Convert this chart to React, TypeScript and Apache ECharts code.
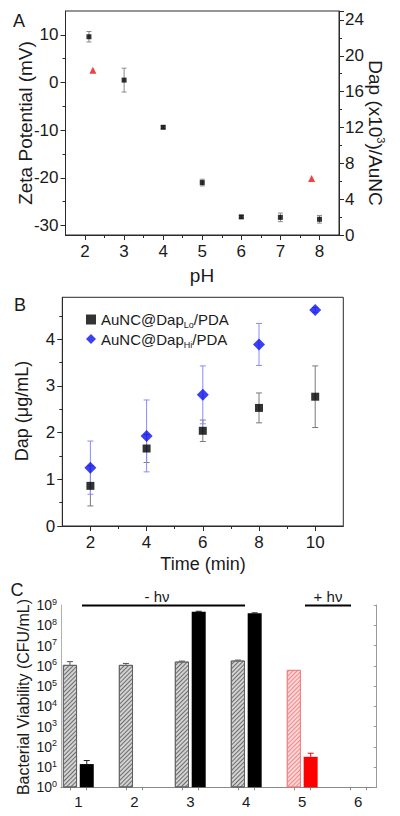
import React, { useEffect, useRef } from 'react';
import * as echarts from 'echarts';

// ---------- Panel A ----------
const phValues = [2.1, 3, 4, 5, 6, 7, 8];
const zetaPotential = [9.6, 0.5, -9.4, -21.0, -28.2, -28.3, -28.7];
const zetaError = [1.1, 2.5, 0.3, 0.7, 0.3, 0.9, 0.8];
const dapPh = [2.2, 7.8];
const dapPerAuNC = [18.4, 6.3];
const phTicks = [2, 3, 4, 5, 6, 7, 8];
const phMinorTicks = [2.5, 3.5, 4.5, 5.5, 6.5, 7.5];
const zetaTicks = [-30, -20, -10, 0, 10];
const zetaMinorTicks = [-25, -15, -5, 5];

// ---------- Panel B ----------
const timeMin = [2, 4, 6, 8, 10];
const dapLo = [0.86, 1.66, 2.04, 2.53, 2.77];
const dapLoErr = [0.43, 0.3, 0.23, 0.32, 0.66];
const dapHi = [1.25, 1.93, 2.81, 3.89, 4.63];
const dapHiErr = [0.57, 0.77, 0.62, 0.45, 0.05];
const timeTicks = [2, 4, 6, 8, 10];
const timeMinorTicks = [3, 5, 7, 9];
const dapTicks = [0, 1, 2, 3, 4];
const dapMinorTicks = [0.5, 1.5, 2.5, 3.5, 4.5];
const loName = 'AuNC@DapLo/PDA';
const hiName = 'AuNC@DapHi/PDA';

// ---------- Panel C ----------
const groups = [1, 2, 3, 4, 5, 6];
const controlCFU: (number | null)[] = [1.1e6, 1.1e6, 1.6e6, 1.8e6, 6.2e5, null];
const controlErr: (number | null)[] = [5e5, 2e5, 1e5, 1e5, 0, null];
const treatedCFU: (number | null)[] = [14, null, 4.7e8, 3.9e8, 32, null];
const treatedErr: (number | null)[] = [7, null, 2e7, 2e7, 16, null];
const decades = [1, 10, 1e2, 1e3, 1e4, 1e5, 1e6, 1e7, 1e8, 1e9];
const redGroup = 5;

const FONT = '"Liberation Sans", Arial, Helvetica, sans-serif';
const BAR_OFFSET_PX = 8.4;

function errSeries(
  name: string,
  xi: number,
  yi: number,
  data: number[][],
  colorFor: (row: number[]) => string,
  cap: number,
  upOnly: boolean
) {
  return {
    type: 'custom',
    name,
    xAxisIndex: xi,
    yAxisIndex: yi,
    silent: true,
    z: 2,
    data,
    renderItem: (params: any, api: any) => {
      const x = api.value(0);
      const y = api.value(1);
      const e = api.value(2);
      const dx = api.value(3) || 0;
      const row = data[params.dataIndex];
      const color = colorFor(row);
      const top = api.coord([x, y + e]);
      const bot = api.coord([x, upOnly ? y : y - e]);
      const px = top[0] + dx;
      const st = { stroke: color, lineWidth: 1 };
      const children: any[] = [
        { type: 'line', shape: { x1: px, y1: top[1], x2: px, y2: bot[1] }, style: st },
        { type: 'line', shape: { x1: px - cap, y1: top[1], x2: px + cap, y2: top[1] }, style: st },
      ];
      if (!upOnly) {
        children.push({ type: 'line', shape: { x1: px - cap, y1: bot[1], x2: px + cap, y2: bot[1] }, style: st });
      }
      return { type: 'group', children };
    },
  };
}

function txt(x: number, y: number, text: string, size: number, rotation = 0, extra: any = {}) {
  return {
    type: 'text',
    x,
    y,
    rotation,
    silent: true,
    style: {
      text,
      fontSize: size,
      fontFamily: FONT,
      fill: '#1a1a1a',
      align: 'center',
      verticalAlign: 'middle',
      textAlign: 'center',
      textVerticalAlign: 'middle',
      ...extra,
    },
  };
}

const hatchGray = {
  symbol: 'rect',
  symbolSize: 1,
  dashArrayX: [1, 0],
  dashArrayY: [1, 2],
  rotation: -Math.PI / 4,
  color: '#6e6e6e',
};
const hatchRed = { ...hatchGray, color: '#f08a8a' };

export default function App() {
  const ref = useRef<HTMLDivElement>(null);

  useEffect(() => {
    if (!ref.current) return;
    const chart = echarts.init(ref.current, undefined, { renderer: 'svg' });

    const axisLineDark = { show: true, onZero: false, lineStyle: { color: '#2a2a2a', width: 1 } };
    const labelStyle = { color: '#1a1a1a', fontSize: 17, fontFamily: FONT };

    const minorAxis = (extra: any) => ({
      type: 'value',
      axisLine: { show: false, onZero: false },
      axisLabel: { show: false },
      splitLine: { show: false },
      ...extra,
    });

    const controlData = groups
      .map((g, i) => {
        const v = controlCFU[i];
        if (v == null) return null;
        if (g === redGroup) {
          return {
            value: [g, v],
            itemStyle: { color: '#fcd6d6', borderColor: '#f07c7c', borderWidth: 0.8, decal: hatchRed },
          };
        }
        return { value: [g, v] };
      })
      .filter((d) => d != null);

    const treatedData = groups
      .map((g, i) => {
        const v = treatedCFU[i];
        if (v == null) return null;
        if (g === redGroup) return { value: [g, v], itemStyle: { color: '#ff0000' } };
        return { value: [g, v] };
      })
      .filter((d) => d != null);

    const controlErrData = groups
      .map((g, i) => (controlCFU[i] != null && controlErr[i] ? [g, controlCFU[i] as number, controlErr[i] as number, -BAR_OFFSET_PX] : null))
      .filter((d) => d != null) as number[][];
    const treatedErrData = groups
      .map((g, i) => (treatedCFU[i] != null && treatedErr[i] ? [g, treatedCFU[i] as number, treatedErr[i] as number, BAR_OFFSET_PX] : null))
      .filter((d) => d != null) as number[][];

    const option: any = {
      animation: false,
      textStyle: { fontFamily: FONT },
      grid: [
        { left: 65.5, top: 11, width: 273.5, height: 224, show: true, borderColor: '#2a2a2a', borderWidth: 1, backgroundColor: 'transparent' },
        { left: 62.3, top: 297.3, width: 281, height: 228.7, show: true, borderColor: '#2a2a2a', borderWidth: 1, backgroundColor: 'transparent' },
        { left: 61, top: 605, width: 315.7, height: 182.3 },
      ],
      xAxis: [
        {
          gridIndex: 0, type: 'value', min: 1.5, max: 8.5, position: 'bottom',
          axisLine: axisLineDark,
          axisTick: { show: true, length: 5, customValues: phTicks, lineStyle: { color: '#2a2a2a' } },
          axisLabel: { ...labelStyle, margin: 8, customValues: phTicks },
          splitLine: { show: false },
        },
        minorAxis({ gridIndex: 0, min: 1.5, max: 8.5, position: 'bottom', axisTick: { show: true, length: 3, customValues: phMinorTicks, lineStyle: { color: '#2a2a2a' } } }),
        {
          gridIndex: 1, type: 'value', min: 1, max: 11, position: 'bottom',
          axisLine: axisLineDark,
          axisTick: { show: true, length: 5, customValues: timeTicks, lineStyle: { color: '#2a2a2a' } },
          axisLabel: { ...labelStyle, margin: 8, customValues: timeTicks },
          splitLine: { show: false },
        },
        minorAxis({ gridIndex: 1, min: 1, max: 11, position: 'bottom', axisTick: { show: true, length: 3, customValues: timeMinorTicks, lineStyle: { color: '#2a2a2a' } } }),
        {
          gridIndex: 2, type: 'value', min: 0.69, max: 6.33, position: 'bottom',
          axisLine: { show: true, onZero: false, lineStyle: { color: '#8a8a8a', width: 1 } },
          axisTick: {
            show: true, length: 3,
            customValues: groups.flatMap((g) => [g - 0.15, g + 0.15]),
            lineStyle: { color: '#8a8a8a' },
          },
          axisLabel: { color: '#1a1a1a', fontSize: 15, fontFamily: FONT, margin: 7, customValues: groups },
          splitLine: { show: false },
        },
      ],
      yAxis: [
        {
          gridIndex: 0, type: 'value', min: -32, max: 15, position: 'left',
          axisLine: axisLineDark,
          axisTick: { show: true, length: 5, customValues: zetaTicks, lineStyle: { color: '#2a2a2a' } },
          axisLabel: { ...labelStyle, margin: 7, customValues: zetaTicks },
          splitLine: { show: false },
        },
        minorAxis({ gridIndex: 0, min: -32, max: 15, position: 'left', axisTick: { show: true, length: 3, customValues: zetaMinorTicks, lineStyle: { color: '#2a2a2a' } } }),
        {
          gridIndex: 0, type: 'value', position: 'right', min: 0, max: 25, interval: 4,
          axisLine: axisLineDark,
          axisTick: { show: true, length: 5, lineStyle: { color: '#2a2a2a' } },
          minorTick: { show: true, splitNumber: 2, length: 3, lineStyle: { color: '#2a2a2a' } },
          axisLabel: { ...labelStyle, margin: 6, showMaxLabel: false },
          splitLine: { show: false },
        },
        {
          gridIndex: 1, type: 'value', min: 0, max: 4.9, position: 'left',
          axisLine: axisLineDark,
          axisTick: { show: true, length: 5, customValues: dapTicks, lineStyle: { color: '#2a2a2a' } },
          axisLabel: { ...labelStyle, margin: 7, customValues: dapTicks },
          splitLine: { show: false },
        },
        minorAxis({ gridIndex: 1, min: 0, max: 4.9, position: 'left', axisTick: { show: true, length: 3, customValues: dapMinorTicks, lineStyle: { color: '#2a2a2a' } } }),
        {
          gridIndex: 2, type: 'log', logBase: 10, min: 1, max: 1e9, position: 'left',
          axisLine: { show: true, lineStyle: { color: '#b0b0b0', width: 1 } },
          axisTick: { show: false },
          axisLabel: {
            margin: 4,
            customValues: decades,
            formatter: (v: number) => `{b|10}{s|${Math.round(Math.log10(v))}}`,
            rich: {
              b: { fontSize: 14, fontFamily: FONT, color: '#1a1a1a', lineHeight: 16 },
              s: { fontSize: 9, fontFamily: FONT, color: '#1a1a1a', verticalAlign: 'top', lineHeight: 9 },
            },
          },
          splitLine: { show: false },
        },
        {
          gridIndex: 2, type: 'log', logBase: 10, min: 1, max: 1e9, position: 'right',
          axisLine: { show: true, lineStyle: { color: '#9a9a9a', width: 1 } },
          axisTick: { show: true, inside: true, length: 3, customValues: decades, lineStyle: { color: '#9a9a9a' } },
          axisLabel: { show: false },
          splitLine: { show: false },
        },
      ],
      legend: {
        left: 81,
        top: 307,
        orient: 'vertical',
        itemWidth: 10,
        itemHeight: 10,
        itemGap: 2,
        data: [
          { name: loName, icon: 'rect' },
          { name: hiName, icon: 'diamond' },
        ],
        formatter: (name: string) =>
          name === loName ? '{a|AuNC@Dap}{s|Lo}{a|/PDA}' : '{a|AuNC@Dap}{s|Hi}{a|/PDA}',
        textStyle: {
          fontFamily: FONT,
          rich: {
            a: { fontSize: 15, fontFamily: FONT, color: '#1a1a1a', lineHeight: 20 },
            s: { fontSize: 9, fontFamily: FONT, color: '#1a1a1a', lineHeight: 9, verticalAlign: 'bottom' },
          },
        },
        selectedMode: false,
      },
      series: [
        // Panel A
        errSeries('zetaErr', 0, 0, phValues.map((p, i) => [p, zetaPotential[i], zetaError[i]]), () => '#8a8a8a', 2.5, false),
        {
          type: 'scatter', name: 'zeta', xAxisIndex: 0, yAxisIndex: 0, z: 3,
          symbol: 'rect', symbolSize: 5, itemStyle: { color: '#000' },
          data: phValues.map((p, i) => [p, zetaPotential[i]]),
        },
        {
          type: 'scatter', name: 'dapLoad', xAxisIndex: 0, yAxisIndex: 2, z: 3,
          symbol: 'triangle', symbolSize: 7, itemStyle: { color: '#ee1111' },
          data: dapPh.map((p, i) => [p, dapPerAuNC[i]]),
        },
        // Panel B
        errSeries('loErr', 2, 3, timeMin.map((t, i) => [t, dapLo[i], dapLoErr[i]]), () => '#7a7a7a', 3, false),
        errSeries('hiErr', 2, 3, timeMin.map((t, i) => [t, dapHi[i], dapHiErr[i]]), () => '#8a8aff', 3, false),
        {
          type: 'scatter', name: loName, xAxisIndex: 2, yAxisIndex: 3, z: 3,
          symbol: 'rect', symbolSize: 8, itemStyle: { color: '#000' },
          data: timeMin.map((t, i) => [t, dapLo[i]]),
        },
        {
          type: 'scatter', name: hiName, xAxisIndex: 2, yAxisIndex: 3, z: 4,
          symbol: 'diamond', symbolSize: 12, itemStyle: { color: '#0a10ee' },
          data: timeMin.map((t, i) => [t, dapHi[i]]),
        },
        // Panel C
        {
          type: 'bar', name: 'control', xAxisIndex: 4, yAxisIndex: 5,
          barWidth: 14, barGap: '20%',
          itemStyle: { color: '#d2d2d2', borderColor: '#5a5a5a', borderWidth: 0.8, decal: hatchGray },
          data: controlData,
        },
        {
          type: 'bar', name: 'treated', xAxisIndex: 4, yAxisIndex: 5,
          barWidth: 14, barGap: '20%',
          itemStyle: { color: '#000' },
          data: treatedData,
        },
        errSeries('controlErr', 4, 5, controlErrData, (r) => (r[0] === redGroup ? '#f07c7c' : '#555'), 3, true),
        errSeries('treatedErr', 4, 5, treatedErrData, (r) => (r[0] === redGroup ? '#ff0000' : '#222'), 3, true),
      ],
      graphic: [
        txt(19, 21, 'A', 18),
        txt(20, 305, 'B', 18),
        txt(17, 590, 'C', 18),
        txt(25, 123, 'Zeta Potential (mV)', 19, Math.PI / 2),
        txt(375, 133, '{a|Dap (x10}{s|3}{a|)/AuNC}', 19, -Math.PI / 2, {
          rich: {
            a: { fontSize: 19, fontFamily: FONT, fill: '#1a1a1a', lineHeight: 22 },
            s: { fontSize: 11, fontFamily: FONT, fill: '#1a1a1a', lineHeight: 11, verticalAlign: 'top' },
          },
        }),
        txt(202, 275, 'pH', 19),
        txt(22, 411, 'Dap (μg/mL)', 18, Math.PI / 2),
        txt(203, 564, 'Time (min)', 18),
        txt(23, 697, 'Bacterial Viability (CFU/mL)', 16, Math.PI / 2),
        txt(157, 596, '- hν', 15),
        txt(328, 596, '+ hν', 15),
        { type: 'line', silent: true, shape: { x1: 82, y1: 605.5, x2: 245, y2: 605.5 }, style: { stroke: '#000', lineWidth: 2 } },
        { type: 'line', silent: true, shape: { x1: 305, y1: 605.5, x2: 351, y2: 605.5 }, style: { stroke: '#000', lineWidth: 2 } },
      ],
    };

    chart.setOption(option);
    return () => chart.dispose();
  }, []);

  return (
    <div
      ref={ref}
      style={{ position: 'fixed', left: 0, top: 0, width: 400, height: 816, background: '#fff' }}
    />
  );
}
